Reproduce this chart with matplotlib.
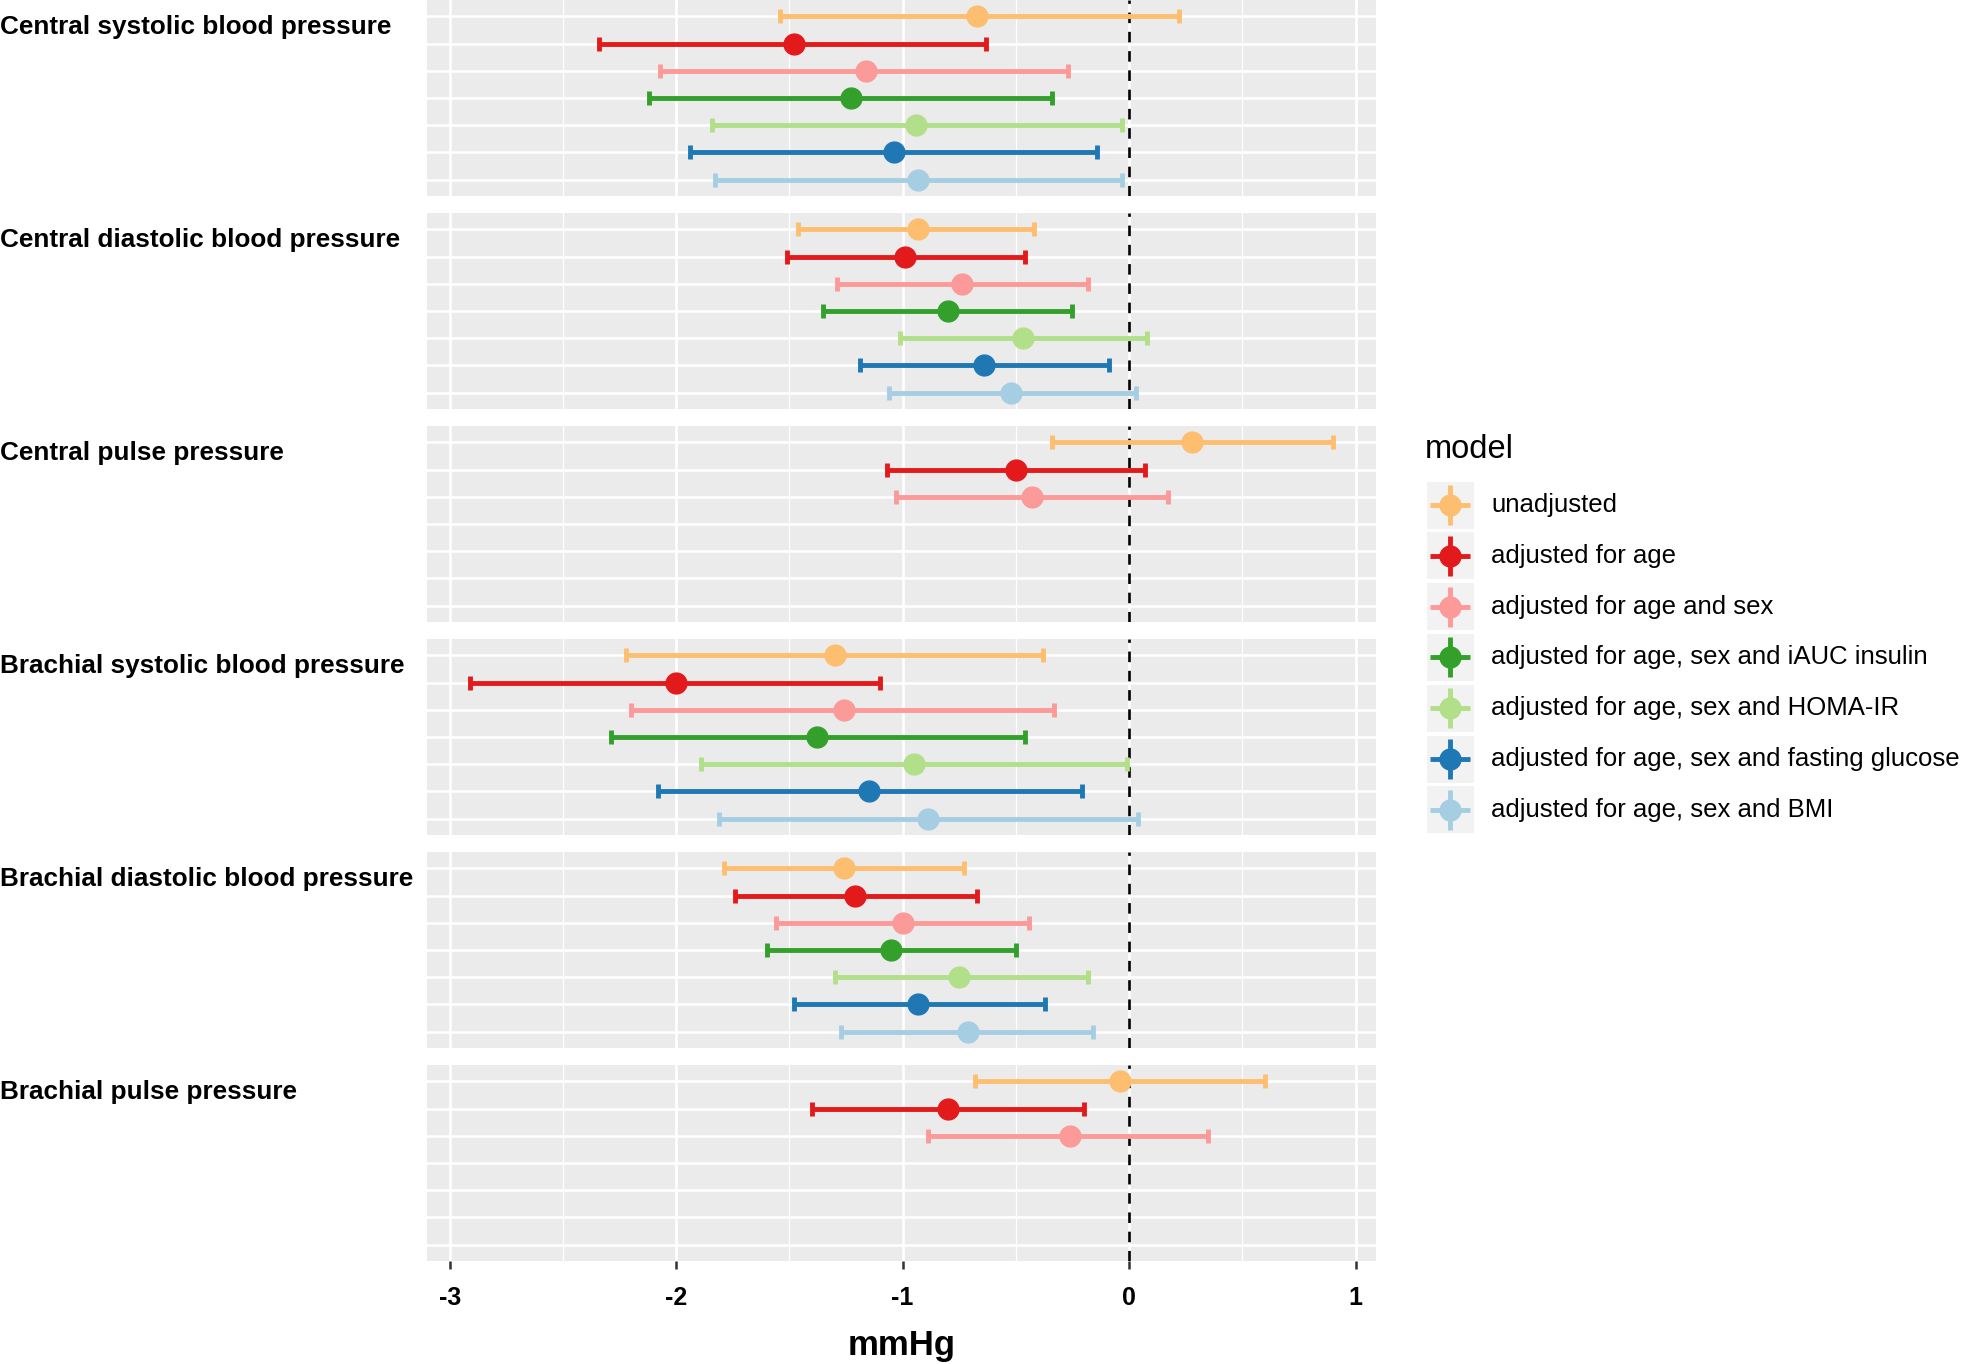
import numpy as np
import matplotlib
matplotlib.use("Agg")
import matplotlib.pyplot as plt
from matplotlib.patches import Rectangle

plt.rcParams['font.family'] = ['Liberation Sans', 'DejaVu Sans']
plt.rcParams['axes.unicode_minus'] = False

# outcomes (one facet each) and models (one row each).............................
outcomes = ["Central systolic blood pressure", "Central diastolic blood pressure",
            "Central pulse pressure", "Brachial systolic blood pressure",
            "Brachial diastolic blood pressure", "Brachial pulse pressure"]
models = ["unadjusted", "adjusted for age", "adjusted for age and sex",
          "adjusted for age, sex and iAUC insulin", "adjusted for age, sex and HOMA-IR",
          "adjusted for age, sex and fasting glucose", "adjusted for age, sex and BMI"]
colors = ["#FDBF6F", "#E31A1C", "#FB9A99", "#33A02C", "#B2DF8A", "#1F78B4", "#A6CEE3"]

nan = np.nan
# point estimates, one list per outcome, one value per model.......................
est = [[-0.67, -1.48, -1.16, -1.23, -0.94, -1.04, -0.93],
       [-0.93, -0.99, -0.74, -0.80, -0.47, -0.64, -0.52],
       [0.28, -0.50, -0.43, nan, nan, nan, nan],
       [-1.30, -2.00, -1.26, -1.38, -0.95, -1.15, -0.89],
       [-1.26, -1.21, -1.00, -1.05, -0.75, -0.93, -0.71],
       [-0.04, -0.80, -0.26, nan, nan, nan, nan]]
# lower confidence limits.........................................................
lower = [[-1.54, -2.34, -2.07, -2.12, -1.84, -1.94, -1.83],
         [-1.46, -1.51, -1.29, -1.35, -1.01, -1.19, -1.06],
         [-0.34, -1.07, -1.03, nan, nan, nan, nan],
         [-2.22, -2.91, -2.20, -2.29, -1.89, -2.08, -1.81],
         [-1.79, -1.74, -1.56, -1.60, -1.30, -1.48, -1.27],
         [-0.68, -1.40, -0.89, nan, nan, nan, nan]]
# upper confidence limits.........................................................
upper = [[0.22, -0.63, -0.27, -0.34, -0.03, -0.14, -0.03],
         [-0.42, -0.46, -0.18, -0.25, 0.08, -0.09, 0.03],
         [0.90, 0.07, 0.17, nan, nan, nan, nan],
         [-0.38, -1.10, -0.33, -0.46, -0.01, -0.21, 0.04],
         [-0.73, -0.67, -0.44, -0.50, -0.18, -0.37, -0.16],
         [0.60, -0.20, 0.35, nan, nan, nan, nan]]
xticks = [-3, -2, -1, 0, 1]

# figure size in pixels...........................................................
W, H = 1961, 1364
fig = plt.figure(figsize=(W / 100, H / 100), dpi=100)

# x range with the usual 5% expansion.............................................
lo_all = np.nanmin(np.array(lower))
hi_all = np.nanmax(np.array(upper))
pad = 0.05 * (hi_all - lo_all)
xlim = (lo_all - pad, hi_all + pad)

# panel geometry (pixels).........................................................
left_px, right_px = 427, 1376
panel_h, gap = 196, 17
n = len(models)
rows = np.arange(n)

axes = []
for k, outcome in enumerate(outcomes):
    top = k * (panel_h + gap)
    ax = fig.add_axes([left_px / W, 1 - (top + panel_h) / H,
                       (right_px - left_px) / W, panel_h / H])
    ax.set_facecolor("#EBEBEB")
    for s in ax.spines.values():
        s.set_visible(False)

    # grid lines...................................................................
    ax.set_xticks(xticks)
    ax.set_xticks(np.arange(-2.5, 1.0, 1.0), minor=True)
    ax.set_yticks(rows)
    ax.grid(which="major", color="white", linewidth=1.9)
    ax.grid(which="minor", axis="x", color="white", linewidth=0.9)
    ax.set_axisbelow(True)
    ax.tick_params(axis="y", length=0, labelleft=False)
    ax.tick_params(axis="x", which="minor", length=0)

    # zero reference line..........................................................
    ax.axvline(0, color="black", linewidth=1.9, linestyle=(0, (4, 3.3)), zorder=2)

    # error bars and points per model..............................................
    for i in range(n):
        e = est[k][i]
        if np.isnan(e):
            continue
        ax.errorbar([e], [rows[i]],
                    xerr=[[e - lower[k][i]], [upper[k][i] - e]],
                    fmt="o", color=colors[i], markersize=15, elinewidth=3.5,
                    capsize=5, capthick=3.5, zorder=3)

    ax.set_xlim(*xlim)
    ax.set_ylim(n - 1 + 0.6, -0.6)

    # facet label on the left......................................................
    fig.text(0.0, 1 - (top + 27) / H, outcome, ha="left", va="center",
             fontsize=18.8, fontweight="bold")

    if k < len(outcomes) - 1:
        ax.tick_params(axis="x", which="major", length=0, labelbottom=False)
    else:
        ax.tick_params(axis="x", which="major", length=6, width=1.8,
                       color="#333333", pad=12, labelsize=18, labelcolor="black")
        for lab in ax.get_xticklabels():
            lab.set_fontweight("bold")
        ax.set_xlabel("mmHg", fontsize=25, fontweight="bold", labelpad=14)
    axes.append(ax)

# legend drawn in pixel space.....................................................
leg = fig.add_axes([0, 0, 1, 1])
leg.set_xlim(0, W)
leg.set_ylim(H, 0)
leg.axis("off")
leg.patch.set_alpha(0)
leg.text(1425, 450, "model", fontsize=23.5, ha="left", va="center")
key0, step, box = 505, 50.8, 47
for i, m in enumerate(models):
    cy = key0 + i * step
    cx = 1450
    leg.add_patch(Rectangle((cx - box / 2, cy - box / 2), box, box,
                            facecolor="#F2F2F2", edgecolor="none"))
    leg.plot([cx - 20, cx + 20], [cy, cy], color=colors[i], linewidth=3.5,
             solid_capstyle="butt")
    leg.plot([cx, cx], [cy - 20, cy + 20], color=colors[i], linewidth=3.5,
             solid_capstyle="butt")
    leg.plot([cx], [cy], "o", color=colors[i], markersize=15)
    leg.text(1491, cy, m, fontsize=18.5, ha="left", va="center")

fig.savefig("out.png", dpi=100)
